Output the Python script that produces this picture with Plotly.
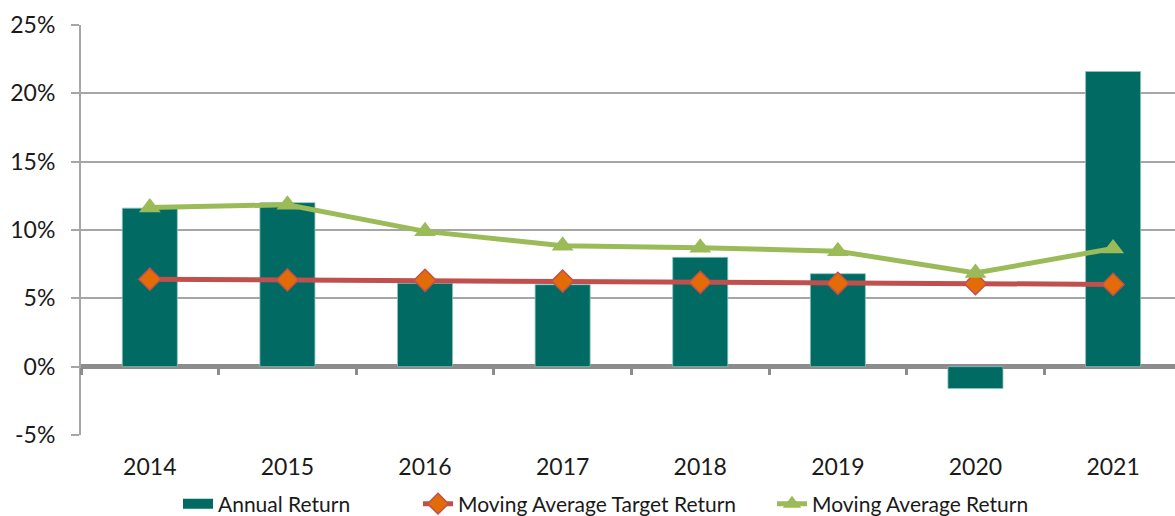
import plotly.graph_objects as go

years = ["2014", "2015", "2016", "2017", "2018", "2019", "2020", "2021"]
annual_return = [11.6, 12.0, 6.1, 6.0, 8.0, 6.8, -1.6, 21.6]
target_return = [6.4, 6.35, 6.32, 6.26, 6.17, 6.1, 6.07, 6.02]
moving_avg_return = [11.65, 11.85, 9.9, 8.85, 8.7, 8.45, 6.85, 8.65]
y_ticks = [-5, 0, 5, 10, 15, 20, 25]

FONT = "Lato, 'Open Sans', sans-serif"
GRID = "#a6a6a6"
AXIS = "#8c8c8c"
TEAL = "#006a63"
RED = "#c0504d"
ORANGE = "#e36c09"
GREEN = "#9bbb59"
W, H = 1175, 516

xs = list(range(len(years)))

fig = go.Figure()
fig.add_trace(go.Bar(
    x=xs, y=annual_return, name="Annual Return", width=0.4,
    marker=dict(color=TEAL, line=dict(color="#8cc4bf", width=0.8)),
    showlegend=False,
))
# wide swatch for the bar series in the legend
fig.add_trace(go.Scatter(
    x=[None], y=[None], name="Annual Return", mode="lines",
    line=dict(color=TEAL, width=14), legend="legend",
))
fig.add_trace(go.Scatter(
    x=xs, y=target_return, name="Moving Average Target Return",
    mode="lines+markers",
    line=dict(color=RED, width=5),
    marker=dict(symbol="diamond", size=17, color=ORANGE,
                line=dict(color=RED, width=1.5)),
    legend="legend2",
))
fig.add_trace(go.Scatter(
    x=xs, y=moving_avg_return, name="Moving Average Return",
    mode="lines+markers",
    line=dict(color=GREEN, width=5),
    marker=dict(symbol="triangle-up", size=19, color=GREEN),
    legend="legend3",
))
# invisible trace carrying the category-boundary axis drawn along zero
fig.add_trace(go.Scatter(x=[0], y=[0], xaxis="x2", mode="markers",
                         marker=dict(opacity=0), showlegend=False,
                         hoverinfo="skip"))

x_range = [-0.5, 7.45]
y_range = [-5, 25]
zero_pos = (0 - y_range[0]) / (y_range[1] - y_range[0])


def legend_at(px_left):
    return dict(orientation="h", xref="container", yref="container",
                x=px_left / W, xanchor="left", y=(H - 504) / H,
                yanchor="middle", font=dict(size=21),
                bgcolor="rgba(0,0,0,0)")


fig.update_layout(
    width=W, height=H,
    margin=dict(l=81, r=0, t=25, b=81),
    plot_bgcolor="white", paper_bgcolor="white",
    font=dict(family=FONT, color="#1a1a1a"),
    showlegend=True,
    legend=legend_at(178),
    legend2=legend_at(418),
    legend3=legend_at(772),
    xaxis=dict(
        range=x_range, tickmode="array", tickvals=xs, ticktext=years,
        showgrid=False, zeroline=False, showline=False, ticks="",
        tickfont=dict(size=23), ticklabelstandoff=16,
    ),
    xaxis2=dict(
        range=x_range, overlaying="x", anchor="free", position=zero_pos,
        side="bottom", tickmode="array",
        tickvals=[i - 0.5 for i in range(len(years))],
        showticklabels=False, ticks="outside", ticklen=7, tickwidth=3,
        tickcolor=AXIS, showline=False, showgrid=False, zeroline=False,
    ),
    yaxis=dict(
        range=y_range, tickmode="array", tickvals=y_ticks,
        ticktext=[f"{v}%" for v in y_ticks],
        showgrid=True, gridcolor=GRID, gridwidth=2,
        zeroline=True, zerolinecolor=AXIS, zerolinewidth=5,
        showline=True, linecolor=GRID, linewidth=2,
        ticks="outside", ticklen=8, tickwidth=2, tickcolor=GRID,
        tickfont=dict(size=23), ticklabelstandoff=11,
    ),
)

fig.write_html("out.html")
